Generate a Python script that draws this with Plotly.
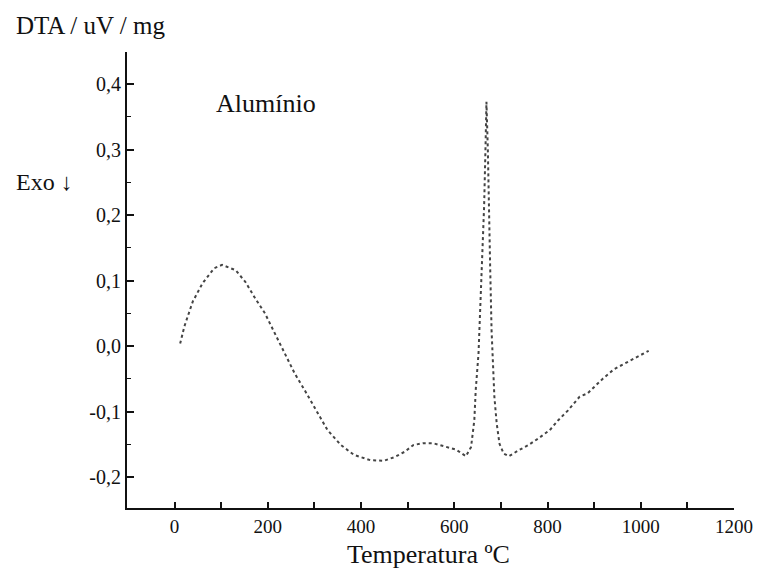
import plotly.graph_objects as go

# DTA curve for aluminium
temperature = [12, 21, 39, 60, 85, 102, 131, 152, 173, 194, 212, 237, 258, 279, 307,
               328, 357, 385, 420, 449, 473, 494, 512, 533, 554, 576, 604, 625, 636,
               643, 646, 652, 657, 662, 664, 667, 669, 672, 674, 677, 680, 682, 686,
               691, 697, 706, 717, 738, 759, 780, 805, 823, 844, 869, 886, 918, 932,
               943, 996, 1017]
dta = [0.004, 0.030, 0.068, 0.096, 0.119, 0.124, 0.116, 0.098, 0.073, 0.050, 0.024,
       -0.011, -0.042, -0.067, -0.103, -0.128, -0.151, -0.166, -0.174, -0.175, -0.169,
       -0.161, -0.151, -0.148, -0.148, -0.152, -0.158, -0.168, -0.154, -0.113, -0.067,
       -0.011, 0.075, 0.177, 0.213, 0.304, 0.373, 0.300, 0.210, 0.120, 0.024, -0.006,
       -0.077, -0.118, -0.149, -0.164, -0.168, -0.159, -0.151, -0.141, -0.128, -0.113,
       -0.098, -0.077, -0.072, -0.050, -0.042, -0.035, -0.015, -0.007]

x_tickvals = [0, 200, 400, 600, 800, 1000, 1200]
x_ticktext = ["0", "200", "400", "600", "800", "1000", "1200"]
y_tickvals = [-0.2, -0.1, 0.0, 0.1, 0.2, 0.3, 0.4]
y_ticktext = ["-0,2", "-0,1", "0,0", "0,1", "0,2", "0,3", "0,4"]

y_label = "DTA / uV / mg"
exo_label = "Exo \u2193"
sample_label = "Alumínio"
x_label = "Temperatura ºC"

FONT = "Liberation Serif, DejaVu Serif, serif"
INK = "#111111"

fig = go.Figure()
fig.add_trace(go.Scatter(
    x=temperature, y=dta, mode="lines",
    line=dict(color="#444444", width=2, dash="dot"),
    showlegend=False, hoverinfo="skip",
))

fig.update_layout(
    width=765, height=578,
    margin=dict(l=127, r=27, t=52, b=70),
    paper_bgcolor="white", plot_bgcolor="white",
    font=dict(family=FONT, color=INK, size=20),
    showlegend=False,
)

fig.update_xaxes(
    range=[-102, 1200], showgrid=False, zeroline=False,
    showline=True, linecolor="#111111", linewidth=2,
    ticks="inside", ticklen=6, tickwidth=1.5, tickcolor="#111111",
    tickvals=x_tickvals, ticktext=x_ticktext, ticklabeloverflow="allow",
    tickfont=dict(family=FONT, size=19, color=INK),
    minor=dict(dtick=100, tick0=0, ticks="inside", ticklen=6, tickwidth=1.5,
               tickcolor="#111111", showgrid=False),
)
fig.update_yaxes(
    range=[-0.247, 0.449], showgrid=False, zeroline=False,
    showline=True, linecolor="#111111", linewidth=2,
    ticks="inside", ticklen=7, tickwidth=1.5, tickcolor="#111111",
    tickvals=y_tickvals, ticktext=y_ticktext,
    tickfont=dict(family=FONT, size=20, color=INK),
    minor=dict(dtick=0.05, tick0=0, ticks="inside", ticklen=4, tickwidth=1.2,
               tickcolor="#111111", showgrid=False),
)

fig.add_annotation(text=y_label, xref="paper", yref="paper", x=-0.1866, y=1.059,
                   xanchor="left", yanchor="middle", showarrow=False,
                   font=dict(family=FONT, size=25, color=INK))
fig.add_annotation(text=exo_label, xref="paper", yref="paper", x=-0.1866, y=0.715,
                   xanchor="left", yanchor="middle", showarrow=False,
                   font=dict(family="Liberation Serif, DejaVu Sans, sans-serif",
                             size=24, color=INK))
fig.add_annotation(text=sample_label, xref="paper", yref="paper", x=0.144, y=0.886,
                   xanchor="left", yanchor="middle", showarrow=False,
                   font=dict(family=FONT, size=26, color=INK))
fig.add_annotation(text=x_label, xref="paper", yref="paper", x=0.496, y=-0.101,
                   xanchor="center", yanchor="middle", showarrow=False,
                   font=dict(family=FONT, size=26, color=INK))

fig.write_html("out.html", config={"displayModeBar": False},
               post_script="document.body.style.margin='0';document.body.style.padding='0';")
